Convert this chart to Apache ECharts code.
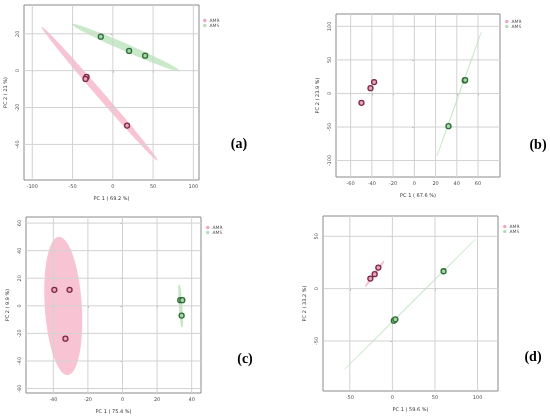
<!DOCTYPE html>
<html>
<head>
<meta charset="utf-8">
<script src="https://cdn.jsdelivr.net/npm/echarts@6/dist/echarts.min.js"></script>
<style>html,body{margin:0;padding:0;background:#fff}#c{width:550px;height:419px}</style>
</head>
<body>
<div id="c"></div>
<script>
// ---- data ----
const groups = ['AMR', 'AMS'];
const panelLabels = ['(a)', '(b)', '(c)', '(d)'];
const xTitles = ['PC 1 ( 69.2 %)', 'PC 1 ( 67.6 %)', 'PC 1 ( 75.4 %)', 'PC 1 ( 59.6 %)'];
const yTitles = ['PC 2 ( 21 %)', 'PC 2 ( 23.9 %)', 'PC 2 ( 9.9 %)', 'PC 2 ( 33.2 %)'];

const xTicksA = [-100, -50, 0, 50, 100];
const yTicksA = [-40, -20, 0, 20];
const xTicksB = [-60, -40, -20, 0, 20, 40, 60];
const yTicksB = [-100, -50, 0, 50, 100];
const xTicksC = [-40, -20, 0, 20, 40];
const yTicksC = [-60, -40, -20, 0, 20, 40, 60];
const xTicksD = [-50, 0, 50, 100];
const yTicksD = [-50, 0, 50];

const xRangeA = [-110.3, 107], yRangeA = [-59.3, 35.6];
const xRangeB = [-73.8, 80.7], yRangeB = [-124.5, 118.4];
const xRangeC = [-55.8, 45.4], yRangeC = [-63.2, 64.4];
const xRangeD = [-81.5, 124], yRangeD = [-97.8, 69.4];

// scores
const amrA = [[-32.6, -3.4], [-33.9, -4.5], [17.7, -29.8]];
const amsA = [[-14.9, 18.4], [20.2, 10.7], [40.1, 8.1]];
const amrB = [[-37.9, 16.9], [-41.3, 7.9], [-49.8, -14.0]];
const amsB = [[47.5, 19.4], [47.9, 19.9], [32.2, -48.8]];
const amrC = [[-39.4, 11.6], [-30.6, 11.6], [-33.0, -23.8]];
const amsC = [[33.4, 4.1], [34.6, 4.1], [34.2, -7.1]];
const amrD = [[-16.5, 20.1], [-20.8, 13.8], [-25.9, 9.6]];
const amsD = [[60.1, 16.6], [1.7, -30.6], [3.5, -29.3]];

// ellipses: [centre x, centre y, major-axis end x, y, minor-axis end x, y]
const ellAmrA = [-16.5, -12.5, 55.5, -48.8, -13.2, -11.3];
const ellAmsA = [16.0, 12.55, 83.1, -0.2, 17.9, 14.4];
const ellAmsB = [42.2, -0.85, 63.2, 91.9, 42.5, -1.0];
const ellAmrC = [-34.25, -0.1, -36.8, 50.0, -23.55, 0.68];
const ellAmsC = [33.6, -0.1, 32.8, 15.3, 34.47, -0.05];
const ellAmrD = [-20.8, 14.2, -9.8, 26.5, -19.6, 13.5];
const ellAmsD = [20.7, -14.95, 97.5, 47.2, 21.0, -15.2];

// ---- styles ----
const C = {
  amrFill: 'rgba(240,125,160,0.45)', amsFill: 'rgba(120,200,120,0.40)',
  amrThin: 'rgba(240,125,160,0.45)', amsThin: 'rgba(120,200,120,0.30)',
  amrPt: '#e9a3b8', amrEdge: '#7a2846',
  amsPt: '#a6d6a6', amsEdge: '#2d6b38',
  amrLeg: '#f3a3b8', amsLeg: '#b5ddb5',
  grid: '#d2d2d2'
};

const grids = [
  { left: 24, top: 5, width: 175, height: 175 },
  { left: 336, top: 14, width: 164, height: 163 },
  { left: 26, top: 217, width: 175, height: 176 },
  { left: 323, top: 216, width: 175, height: 175 }
];
const xTicks = [xTicksA, xTicksB, xTicksC, xTicksD];
const yTicks = [yTicksA, yTicksB, yTicksC, yTicksD];
const xRanges = [xRangeA, xRangeB, xRangeC, xRangeD];
const yRanges = [yRangeA, yRangeB, yRangeC, yRangeD];

function xAxis(i) {
  return {
    gridIndex: i, type: 'value', min: xRanges[i][0], max: xRanges[i][1],
    name: xTitles[i], nameLocation: 'middle', nameGap: 16,
    nameTextStyle: { fontSize: 5, color: '#333', fontFamily: 'DejaVu Sans' },
    axisLine: { show: false },
    axisTick: { show: true, length: 2, customValues: xTicks[i], lineStyle: { color: '#666', width: 0.6 } },
    axisLabel: { customValues: xTicks[i], fontSize: 5, color: '#4d4d4d', margin: 4, fontFamily: 'DejaVu Sans' },
    splitLine: { show: false }
  };
}
function yAxis(i) {
  return {
    gridIndex: i, type: 'value', min: yRanges[i][0], max: yRanges[i][1],
    name: yTitles[i], nameLocation: 'middle', nameGap: 16,
    nameTextStyle: { fontSize: 5, color: '#333', fontFamily: 'DejaVu Sans' },
    axisLine: { show: false },
    axisTick: { show: true, length: 2, customValues: yTicks[i], lineStyle: { color: '#666', width: 0.6 } },
    axisLabel: { customValues: yTicks[i], fontSize: 5, color: '#4d4d4d', margin: 4, rotate: 90, fontFamily: 'DejaVu Sans' },
    splitLine: { show: false }
  };
}

// grid lines: plain line series spanning the axis range at each tick value
function gridLineSeries(i) {
  const out = [];
  const base = { type: 'line', xAxisIndex: i, yAxisIndex: i, silent: true, z: 2, zlevel: 0, symbol: 'none',
    showSymbol: false, clip: false, animation: false,
    lineStyle: { color: C.grid, width: 1, opacity: 1 }, emphasis: { disabled: true } };
  xTicks[i].forEach(function (v) {
    out.push(Object.assign({ name: 'gx', data: [[v, yRanges[i][0]], [v, yRanges[i][1]]] }, base));
  });
  yTicks[i].forEach(function (v) {
    out.push(Object.assign({ name: 'gy', data: [[xRanges[i][0], v], [xRanges[i][1], v]] }, base));
  });
  return out;
}

function ellipse(params, i, fill, lw) {
  return {
    type: 'custom', name: 'ellipse', xAxisIndex: i, yAxisIndex: i, silent: true, z: 2,
    data: [params], encode: { x: [0, 2, 4], y: [1, 3, 5] },
    renderItem: function (p, api) {
      const cx = api.value(0), cy = api.value(1), ex = api.value(2), ey = api.value(3), mx = api.value(4), my = api.value(5);
      const pts = [];
      for (let k = 0; k < 144; k++) {
        const t = k / 144 * Math.PI * 2;
        pts.push(api.coord([cx + Math.cos(t) * (ex - cx) + Math.sin(t) * (mx - cx),
                            cy + Math.cos(t) * (ey - cy) + Math.sin(t) * (my - cy)]));
      }
      return { type: 'polygon', shape: { points: pts }, style: { fill: fill, stroke: fill, lineWidth: lw } };
    }
  };
}
function points(name, data, i) {
  const amr = name === 'AMR';
  return {
    type: 'scatter', name: name, xAxisIndex: i, yAxisIndex: i, z: 3, data: data,
    symbol: 'circle', symbolSize: 5,
    itemStyle: { color: amr ? C.amrPt : C.amsPt, borderColor: amr ? C.amrEdge : C.amsEdge, borderWidth: 1.3, opacity: 1 },
    emphasis: { disabled: true }
  };
}

const legendPos = [[203, 18], [505, 19], [206, 225], [503, 224]];
const legends = legendPos.map(function (p) {
  return {
    left: p[0], top: p[1], orient: 'vertical', itemWidth: 3.5, itemHeight: 3.5, itemGap: 0, icon: 'circle',
    selectedMode: false, padding: 0,
    itemStyle: { borderWidth: 0 },
    textStyle: { fontSize: 4.5, color: '#555', fontFamily: 'DejaVu Sans', padding: [0, 0, 0, -2] },
    data: [{ name: groups[0], itemStyle: { color: C.amrLeg, borderWidth: 0 } },
           { name: groups[1], itemStyle: { color: C.amsLeg, borderWidth: 0 } }]
  };
});

const labelPos = [[239, 144], [538, 145], [245, 359], [533, 357]];
const graphics = labelPos.map(function (p, i) {
  return {
    type: 'text', x: p[0], y: p[1],
    style: { text: panelLabels[i], font: 'bold 14px "Liberation Serif"', fill: '#000', align: 'center', verticalAlign: 'middle' }
  };
});

const series = [].concat(
  gridLineSeries(0), gridLineSeries(1), gridLineSeries(2), gridLineSeries(3),
  [
    ellipse(ellAmrA, 0, C.amrFill, 0), ellipse(ellAmsA, 0, C.amsFill, 0),
    ellipse(ellAmsB, 1, C.amsThin, 0.6),
    ellipse(ellAmrC, 2, C.amrFill, 0), ellipse(ellAmsC, 2, C.amsFill, 0.5),
    ellipse(ellAmrD, 3, C.amrThin, 0.5), ellipse(ellAmsD, 3, C.amsThin, 0.6),
    points('AMR', amrA, 0), points('AMS', amsA, 0),
    points('AMR', amrB, 1), points('AMS', amsB, 1),
    points('AMR', amrC, 2), points('AMS', amsC, 2),
    points('AMR', amrD, 3), points('AMS', amsD, 3)
  ]
);

const chart = echarts.init(document.getElementById('c'), null, { renderer: 'canvas' });
chart.setOption({
  animation: false,
  backgroundColor: '#fff',
  grid: grids.map(function (g) { return Object.assign({ show: true, borderColor: '#8a8a8a', borderWidth: 1, backgroundColor: 'transparent' }, g); }),
  xAxis: [0, 1, 2, 3].map(xAxis),
  yAxis: [0, 1, 2, 3].map(yAxis),
  legend: legends,
  graphic: graphics,
  series: series
});
</script>
</body>
</html>
